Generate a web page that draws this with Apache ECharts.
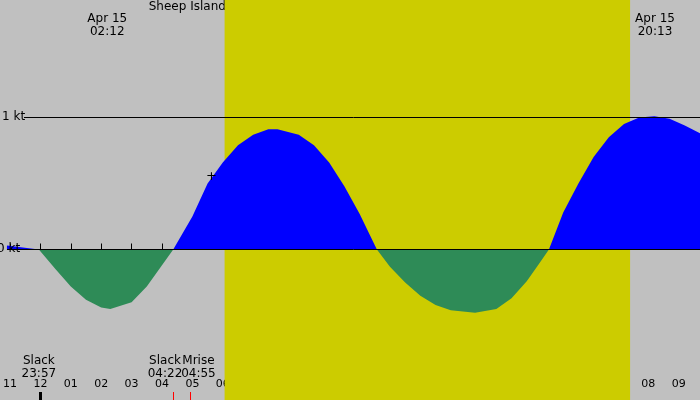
<!DOCTYPE html>
<html><head><meta charset="utf-8">
<script src="https://cdn.jsdelivr.net/npm/echarts@6/dist/echarts.min.js"></script>
<style>html,body{margin:0;padding:0;background:#c0c0c0}#c{width:700px;height:400px}</style>
</head><body><div id="c"></div>
<script>
const hours = [-1.1,-0.05,0.5,1.0,1.5,2.0,2.3,3.0,3.5,4.0,4.37,5.0,5.5,6.0,6.5,7.0,7.5,7.8,8.5,9.0,9.5,10.0,10.5,11.07,11.5,12.0,12.5,13.0,13.5,14.3,15.0,15.5,16.0,16.4,16.73,17.2,17.7,18.2,18.7,19.2,19.7,20.2,20.7,21.2,21.7];
const knots = [0.03,0,-0.15,-0.28,-0.38,-0.44,-0.45,-0.40,-0.28,-0.12,0,0.25,0.5,0.66,0.79,0.87,0.91,0.91,0.87,0.79,0.66,0.48,0.27,0,-0.13,-0.25,-0.35,-0.42,-0.46,-0.48,-0.45,-0.37,-0.24,-0.11,0,0.28,0.5,0.70,0.85,0.95,1.0,1.01,0.99,0.94,0.88];
const tickHours = [-1,0,1,2,3,4,5,6,7,8,9,10,11,12,13,14,15,16,17,18,19,20,21];
const tickLabels = ['11','12','01','02','03','04','05','06','07','08','09','10','11','12','01','02','03','04','05','06','07','08','09'];
const topLabels = [[2.2,'Apr 15','02:12'],[7.82,'Apr 15','07:49'],[14.38,'Apr 15','14:23'],[20.22,'Apr 15','20:13']];
const eventLabels = [[-0.05,'Slack','23:57'],[4.1,'Slack','04:22'],[5.2,'Mrise','04:55'],[11.07,'Slack','11:04'],[16.6,'Slack','16:44'],[17.7,'Mset','17:33']];
const daylight = [6.06, 19.4];
const redTicks = [4.37, 4.92, 16.73, 17.55];
const title = 'Sheep Island, 0.3 nmi west of (depth 10 ft), Massachusetts Current';

const pos = hours.map((h,i)=>[h, Math.max(knots[i],0)]);
const neg = hours.map((h,i)=>[h, Math.min(knots[i],0)]);
const chart = echarts.init(document.getElementById('c'));
const F = 'DejaVu Sans';
chart.setOption({
  backgroundColor:'#c0c0c0', animation:false,
  grid:{left:0,right:0,top:0,bottom:0},
  xAxis:{type:'value',min:-1.1,max:21.7,splitLine:{show:false},
    axisLine:{show:false},
    axisTick:{show:true,inside:true,length:6,lineStyle:{color:'#000'},customValues:tickHours},
    axisLabel:{inside:true,margin:10,color:'#000',fontFamily:F,fontSize:11,customValues:tickHours,
      formatter:v=>tickLabels[tickHours.indexOf(Math.round(v))]||''}},
  yAxis:{type:'value',min:-1.14,max:1.89,show:false},
  series:[
    {type:'line',data:pos,symbol:'none',lineStyle:{width:0},areaStyle:{color:'#0000ff',opacity:1},
     markArea:{silent:true,itemStyle:{color:'#cccc00'},data:[[{xAxis:daylight[0]},{xAxis:daylight[1]}]]},
     markLine:{silent:true,symbol:'none',lineStyle:{color:'#000',width:1,type:'solid'},label:{show:false},
       data:[{yAxis:0},{yAxis:1}]}, z:3},
    {type:'line',data:neg,symbol:'none',lineStyle:{width:0},areaStyle:{color:'#2e8b57',opacity:1},z:3}
  ]
});
const g=[];
g.push({type:'text',left:'center',top:1,style:{text:title,font:'12px '+F,fill:'#000'}});
topLabels.forEach(([h,a,b])=>{const x=chart.convertToPixel({xAxisIndex:0},h);
  g.push({type:'text',x:x,y:12,style:{text:a+'\n'+b,font:'12px '+F,fill:'#000',align:'center',lineHeight:13}});});
eventLabels.forEach(([h,a,b])=>{const x=chart.convertToPixel({xAxisIndex:0},h);
  g.push({type:'text',x:x,y:354,style:{text:a+'\n'+b,font:'12px '+F,fill:'#000',align:'center',lineHeight:13}});});
redTicks.forEach(h=>{const x=Math.round(chart.convertToPixel({xAxisIndex:0},h))+0.5;
  g.push({type:'line',shape:{x1:x,y1:392,x2:x,y2:400},style:{stroke:'#ff0000',lineWidth:1}});});
const y0=chart.convertToPixel({yAxisIndex:0},0), y1=chart.convertToPixel({yAxisIndex:0},1);
g.push({type:'rect',shape:{x:0,y:y1-7,width:24,height:14},style:{fill:'#c0c0c0'},z:10});
g.push({type:'text',x:2,y:y1-7,style:{text:'1 kt',font:'12px '+F,fill:'#000'},z:11});
g.push({type:'text',x:-3,y:y0-7,style:{text:'0 kt',font:'12px '+F,fill:'#000'},z:11});
const px=chart.convertToPixel({xAxisIndex:0},5.63), py=chart.convertToPixel({yAxisIndex:0},0.55);
g.push({type:'text',x:px,y:py-7,style:{text:'+',font:'13px '+F,fill:'#000',align:'center'},z:11});
const x0=Math.round(chart.convertToPixel({xAxisIndex:0},0));
g.push({type:'rect',shape:{x:x0-1,y:392,width:3,height:8},style:{fill:'#000'}});
chart.setOption({graphic:g});
</script></body></html>
